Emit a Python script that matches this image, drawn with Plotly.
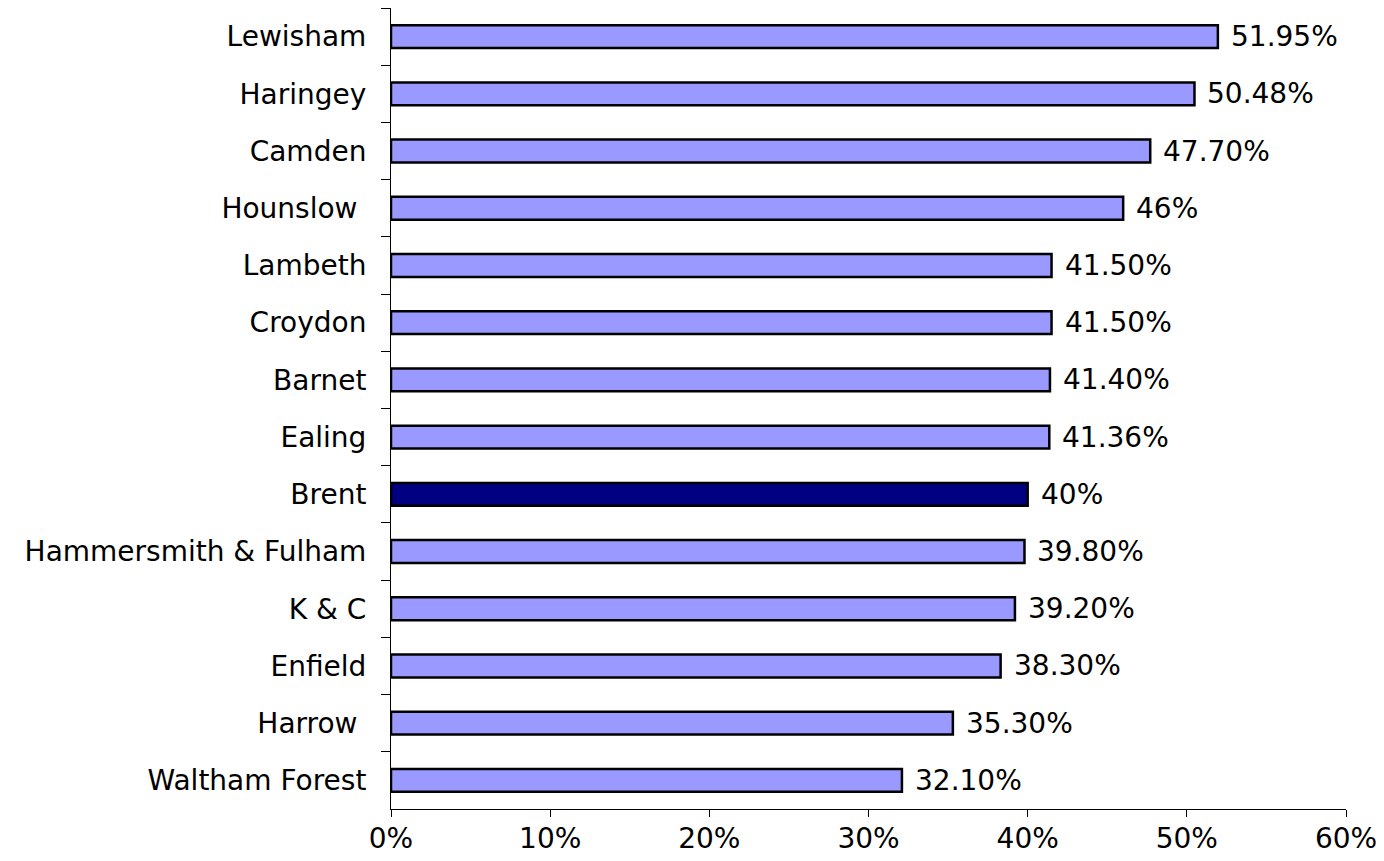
import plotly.graph_objects as go

boroughs = ["Lewisham", "Haringey", "Camden", "Hounslow\u00a0", "Lambeth", "Croydon",
            "Barnet", "Ealing", "Brent", "Hammersmith & Fulham", "K & C",
            "Enfield", "Harrow\u00a0", "Waltham Forest"]
values = [51.95, 50.48, 47.70, 46.0, 41.50, 41.50, 41.40, 41.36, 40.0, 39.80,
          39.20, 38.30, 35.30, 32.10]
value_labels = ["51.95%", "50.48%", "47.70%", "46%", "41.50%", "41.50%", "41.40%",
                "41.36%", "40%", "39.80%", "39.20%", "38.30%", "35.30%", "32.10%"]
highlight = "Brent"
x_ticks = [0, 10, 20, 30, 40, 50, 60]
x_tick_labels = ["0%", "10%", "20%", "30%", "40%", "50%", "60%"]

FONT = "DejaVu Sans"
FS = 28
colors = ["#000080" if b == highlight else "#9999FF" for b in boroughs]

fig = go.Figure()
fig.add_trace(go.Bar(
    x=values, y=boroughs, orientation="h",
    marker=dict(color=colors, line=dict(color="black", width=2.5)),
    hoverinfo="x+y",
))

for b, v, lab in zip(boroughs, values, value_labels):
    fig.add_annotation(x=v, y=b, text=lab, showarrow=False, xanchor="left",
                       xshift=11, font=dict(family=FONT, size=FS, color="black"))

# page body adds an 8px offset, so the figure is sized/margined to compensate
fig.update_layout(
    width=1376, height=853,
    margin=dict(l=383, r=38, t=0, b=52, pad=0, autoexpand=False),
    paper_bgcolor="white", plot_bgcolor="white",
    bargap=0.6, showlegend=False,
    font=dict(family=FONT, size=FS, color="black"),
)
fig.update_xaxes(range=[0, 60], tickvals=x_ticks, ticktext=x_tick_labels,
                 showgrid=False, zeroline=False, showline=True, linecolor="black",
                 linewidth=1, ticks="outside", ticklen=7, tickcolor="black",
                 automargin=False, ticklabelstandoff=-3,
                 tickfont=dict(family=FONT, size=FS, color="black"))
fig.update_yaxes(autorange="reversed", showgrid=False, zeroline=False, showline=True,
                 linecolor="black", linewidth=1, ticks="outside", ticklen=9,
                 tickson="boundaries", tickcolor="black", ticklabelstandoff=18,
                 automargin=False,
                 tickfont=dict(family=FONT, size=FS, color="black"))

fig.write_html("out.html")
